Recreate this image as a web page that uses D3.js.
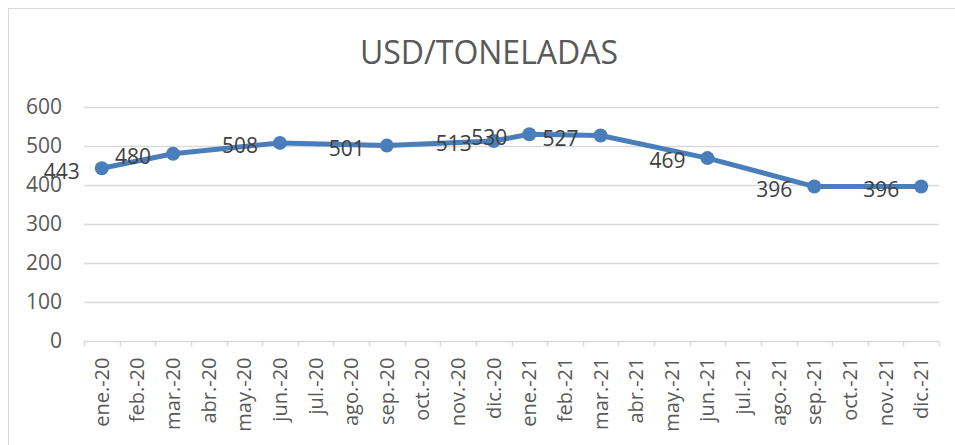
<!DOCTYPE html>
<html lang="es">
<head>
<meta charset="utf-8">
<style>
  body { margin: 0; background: #fff; }
  text { font-family: "Open Sans", "Liberation Sans", sans-serif; }
</style>
</head>
<body>
<script src="https://d3js.org/d3.v7.min.js"></script>
<script>
  // meses del eje x
  var months = ["ene.-20", "feb.-20", "mar.-20", "abr.-20", "may.-20", "jun.-20",
                "jul.-20", "ago.-20", "sep.-20", "oct.-20", "nov.-20", "dic.-20",
                "ene.-21", "feb.-21", "mar.-21", "abr.-21", "may.-21", "jun.-21",
                "jul.-21", "ago.-21", "sep.-21", "oct.-21", "nov.-21", "dic.-21"];
  // meses con dato y su precio
  var pointMonths = ["ene.-20", "mar.-20", "jun.-20", "sep.-20", "dic.-20",
                     "ene.-21", "mar.-21", "jun.-21", "sep.-21", "dic.-21"];
  var prices = [443, 480, 508, 501, 513, 530, 527, 469, 396, 396];
  var yTicks = [0, 100, 200, 300, 400, 500, 600];

  var width = 955, height = 445;
  var blue = "#4a7ebb", grid = "#d9d9d9", label = "#595959";

  var svg = d3.select("body").append("svg")
      .attr("width", width)
      .attr("height", height);

  svg.append("rect")
      .attr("x", 8.5).attr("y", 8.5)
      .attr("width", 1000).attr("height", 500)
      .attr("fill", "#fff")
      .attr("stroke", grid);

  svg.append("text")
      .attr("x", 489).attr("y", 64)
      .attr("text-anchor", "middle")
      .attr("font-size", 32)
      .attr("fill", label)
      .text("USD/TONELADAS");

  var x = d3.scaleBand().domain(months).range([84, 939]);
  var y = d3.scaleLinear().domain([0, 600]).range([341, 107]);

  // líneas de cuadrícula
  svg.append("g")
      .selectAll("line")
      .data(yTicks.filter(function (d) { return d > 0; }))
      .enter().append("line")
      .attr("x1", 84).attr("x2", 939)
      .attr("y1", function (d) { return Math.round(y(d)) + 0.5; })
      .attr("y2", function (d) { return Math.round(y(d)) + 0.5; })
      .attr("stroke", grid)
      .attr("stroke-width", 1.5);

  // eje y (solo etiquetas)
  svg.append("g")
      .selectAll("text")
      .data(yTicks)
      .enter().append("text")
      .attr("x", 62)
      .attr("y", function (d) { return y(d); })
      .attr("dy", "0.35em")
      .attr("text-anchor", "end")
      .attr("font-size", 21)
      .attr("fill", label)
      .text(function (d) { return d; });

  // eje x
  var xAxis = svg.append("g")
      .attr("transform", "translate(0," + (Math.round(y(0)) + 0.5) + ")");
  xAxis.append("line")
      .attr("x1", 84).attr("x2", 939)
      .attr("stroke", grid).attr("stroke-width", 1.5);
  xAxis.selectAll("line.tick")
      .data(months.concat(["end"]))
      .enter().append("line")
      .attr("class", "tick")
      .attr("x1", function (d, i) { return Math.round(84 + i * x.step()) + 0.5; })
      .attr("x2", function (d, i) { return Math.round(84 + i * x.step()) + 0.5; })
      .attr("y1", 0).attr("y2", 5)
      .attr("stroke", grid).attr("stroke-width", 1.5);
  xAxis.selectAll("text")
      .data(months)
      .enter().append("text")
      .attr("transform", function (d) {
        return "translate(" + (x(d) + x.bandwidth() / 2) + ",16) rotate(-90)";
      })
      .attr("dy", "0.35em")
      .attr("text-anchor", "end")
      .attr("font-size", 20)
      .attr("fill", label)
      .text(function (d) { return d; });

  var pts = pointMonths.map(function (m, i) { return { m: m, v: prices[i] }; });

  var line = d3.line()
      .x(function (d) { return x(d.m) + x.bandwidth() / 2; })
      .y(function (d) { return y(d.v); });

  svg.append("path")
      .datum(pts)
      .attr("d", line)
      .attr("fill", "none")
      .attr("stroke", blue)
      .attr("stroke-width", 5)
      .attr("stroke-linejoin", "round");

  svg.append("g")
      .selectAll("circle")
      .data(pts)
      .enter().append("circle")
      .attr("cx", function (d) { return x(d.m) + x.bandwidth() / 2; })
      .attr("cy", function (d) { return y(d.v); })
      .attr("r", 7)
      .attr("fill", blue);

  svg.append("g")
      .selectAll("text")
      .data(pts)
      .enter().append("text")
      .attr("x", function (d) { return x(d.m) + x.bandwidth() / 2 - 22; })
      .attr("y", function (d) { return y(d.v) + 3; })
      .attr("dy", "0.35em")
      .attr("text-anchor", "end")
      .attr("font-size", 21)
      .attr("fill", "#404040")
      .text(function (d) { return d.v; });
</script>
</body>
</html>
